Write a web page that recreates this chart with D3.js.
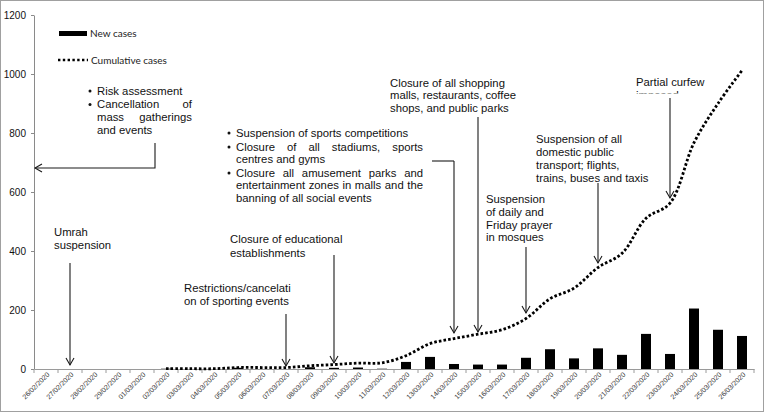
<!DOCTYPE html>
<html><head><meta charset="utf-8">
<script src="https://cdn.jsdelivr.net/npm/d3@7"></script>
<style>body{margin:0;background:#fff}svg{display:block}</style>
</head><body><svg id="c" width="764" height="412"></svg>
<script>
const dates = ["26/02/2020","27/02/2020","28/02/2020","29/02/2020","01/03/2020","02/03/2020","03/03/2020","04/03/2020","05/03/2020","06/03/2020","07/03/2020","08/03/2020","09/03/2020","10/03/2020","11/03/2020","12/03/2020","13/03/2020","14/03/2020","15/03/2020","16/03/2020","17/03/2020","18/03/2020","19/03/2020","20/03/2020","21/03/2020","22/03/2020","23/03/2020","24/03/2020","25/03/2020","26/03/2020"];
const newCases = [0,0,0,0,0,1,0,0,4,0,0,6,4,5,1,24,41,17,15,15,38,67,36,70,48,119,51,205,133,112];
const cumulative = [null,null,null,null,null,1,1,1,5,5,5,11,15,20,21,45,86,103,118,133,171,238,274,344,392,511,562,767,900,1012];
const yTicks = [0,200,400,600,800,1000,1200];
const legendLabels = ["New cases","Cumulative cases"];

const svg = d3.select("#c");
const FONT = "'Liberation Sans', Arial, sans-serif";
svg.append("rect").attr("x",0.5).attr("y",0.5).attr("width",763).attr("height",411)
  .attr("fill","#fff").attr("stroke","#a0a0a0");

const x = d3.scaleBand().domain(dates).range([34,754]).padding(0);
const y = d3.scaleLinear().domain([0,1200]).range([369,15]);

// Y axis
const yAxis = svg.append("g").attr("transform","translate(34,0)")
  .call(d3.axisLeft(y).tickValues(yTicks).tickFormat(d3.format("d")).tickSize(3).tickSizeOuter(0).tickPadding(5));
yAxis.select(".domain").attr("stroke","#8a8a8a");
yAxis.selectAll(".tick line").attr("stroke","#8a8a8a");
yAxis.selectAll("text").attr("font-family",FONT).attr("font-size",10).attr("fill","#111");

// X axis
const xAxis = svg.append("g").attr("transform","translate(0,369)")
  .call(d3.axisBottom(x).tickSize(0).tickSizeOuter(0).tickPadding(0));
xAxis.select(".domain").attr("stroke","#9a9a9a");
xAxis.selectAll(".tick text").attr("font-family",FONT).attr("font-size",7).attr("fill","#333")
  .attr("text-anchor","end").attr("dy",0)
  .attr("transform","translate(4,6) rotate(-45)");
// boundary ticks
svg.append("g").selectAll("line").data(dates.concat(["__end"])).join("line")
  .attr("x1",(d,i)=>34+i*x.bandwidth()).attr("x2",(d,i)=>34+i*x.bandwidth())
  .attr("y1",369).attr("y2",373).attr("stroke","#9a9a9a");

// Bars
const bw = 10;
svg.append("g").selectAll("rect").data(newCases).join("rect")
  .attr("x",(d,i)=>x(dates[i])+x.bandwidth()/2-bw/2)
  .attr("y",d=>y(d)).attr("width",bw).attr("height",d=>y(0)-y(d)).attr("fill","#000");

// Cumulative dotted line
const line = d3.line().defined(d=>d.v!==null)
  .x(d=>x(d.date)+x.bandwidth()/2).y(d=>y(d.v)).curve(d3.curveCatmullRom.alpha(0.5));
svg.append("path").datum(dates.map((d,i)=>({date:d,v:cumulative[i]})))
  .attr("d",line).attr("fill","none").attr("stroke","#000").attr("stroke-width",2.8)
  .attr("stroke-dasharray","2.6,2.1");

// Legend
svg.append("rect").attr("x",59).attr("y",31).attr("width",28).attr("height",5).attr("fill","#000");
svg.append("line").attr("x1",58).attr("x2",88).attr("y1",60).attr("y2",60)
  .attr("stroke","#000").attr("stroke-width",2.5).attr("stroke-dasharray","2.4,2.4");
svg.append("text").attr("x",90).attr("y",37).text(legendLabels[0])
  .attr("font-family","Lato, sans-serif").attr("font-size",10).attr("fill","#222");
svg.append("text").attr("x",91).attr("y",63.5).text(legendLabels[1])
  .attr("font-family","Lato, sans-serif").attr("font-size",10).attr("fill","#222");

// Annotation text helper
const ann = svg.append("g").attr("font-family",FONT).attr("font-size",11.3).attr("fill","#111");
function block(x0, right, lines){
  lines.forEach(l=>{
    if(l.bullet) ann.append("circle").attr("cx",x0-7).attr("cy",l.y-3.6).attr("r",1.5).attr("fill","#111");
    if(!l.justify){
      ann.append("text").attr("x",x0).attr("y",l.y).text(l.t);
    } else {
      const words = l.t.split(" ");
      const nodes = words.map(w=>ann.append("text").attr("y",l.y).text(w));
      const widths = nodes.map(n=>n.node().getComputedTextLength());
      const gap = (right-x0-d3.sum(widths))/(words.length-1);
      let cx = x0;
      nodes.forEach((n,i)=>{n.attr("x",cx); cx += widths[i]+gap;});
    }
  });
}
block(97,192,[
  {t:"Risk assessment",y:94.5,bullet:true},
  {t:"Cancellation of",y:108,bullet:true,justify:true},
  {t:"mass gatherings",y:121,justify:true},
  {t:"and events",y:134}
]);
block(236,423,[
  {t:"Suspension of sports competitions",y:136.7,bullet:true},
  {t:"Closure of all stadiums, sports",y:150.5,bullet:true,justify:true},
  {t:"centres and gyms",y:162.7},
  {t:"Closure all amusement parks and",y:176.5,bullet:true,justify:true},
  {t:"entertainment zones in malls and the",y:189.3,justify:true},
  {t:"banning of all social events",y:201.7}
]);
block(54,0,[{t:"Umrah",y:236},{t:"suspension",y:249}]);
block(230,0,[{t:"Closure of educational",y:243},{t:"establishments",y:256.5}]);
block(184,0,[{t:"Restrictions/cancelati",y:292},{t:"on of sporting events",y:304.5}]);
block(390,0,[{t:"Closure of all shopping",y:86.7},{t:"malls, restaurants, coffee",y:99.2},{t:"shops, and public parks",y:111.7}]);
block(536,0,[{t:"Suspension of all",y:143.3},{t:"domestic public",y:156},{t:"transport; flights,",y:168.7},{t:"trains, buses and taxis",y:181.5}]);
block(486,0,[{t:"Suspension",y:203.3},{t:"of daily and",y:216},{t:"Friday prayer",y:228.5},{t:"in mosques",y:241}]);
block(636,0,[{t:"Partial curfew",y:86}]);
// clipped second line of "Partial curfew imposed"
svg.append("clipPath").attr("id","clipImp").append("rect").attr("x",630).attr("y",90.5).attr("width",60).attr("height",3);
svg.append("text").attr("x",636).attr("y",99.3).text("imposed").attr("font-family",FONT)
  .attr("font-size",11.3).attr("fill","#111").attr("clip-path","url(#clipImp)");

// Arrows
const arr = svg.append("g").attr("fill","none").attr("stroke","#1a1a1a").attr("stroke-width",1.1);
function cx(d){return x(d)+x.bandwidth()/2;}
function downArrow(xx, y1, y2){
  arr.append("path").attr("d",`M${xx},${y1}V${y2}`);
  arr.append("path").attr("d",`M${xx-4},${y2-7}L${xx},${y2}L${xx+4},${y2-7}`);
}
downArrow(cx("27/02/2020"),263,365);
downArrow(cx("07/03/2020"),314,366);
downArrow(cx("09/03/2020"),255,363);
arr.append("path").attr("d",`M432,161H${cx("14/03/2020")}`);
downArrow(cx("14/03/2020"),161,333);
downArrow(cx("15/03/2020"),117,332);
downArrow(cx("17/03/2020"),247,313);
downArrow(cx("20/03/2020"),183,263);
downArrow(cx("23/03/2020"),98,198);
// Risk assessment arrow to y-axis
arr.append("path").attr("d",`M155,143V168H35`);
arr.append("path").attr("d",`M42,164L35,168L42,172`);
</script></body></html>
